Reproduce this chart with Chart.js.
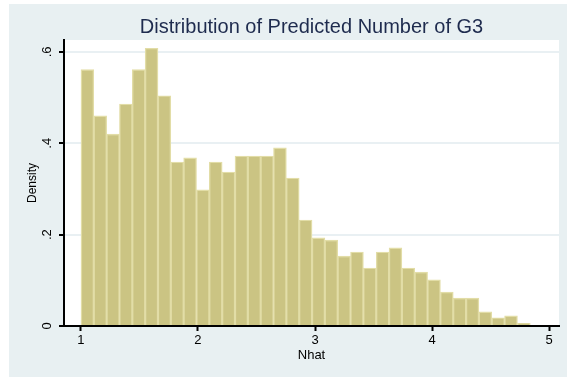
<!DOCTYPE html>
<html>
<head>
<meta charset="utf-8">
<script src="https://cdn.jsdelivr.net/npm/chart.js@4.4.1/dist/chart.umd.min.js"></script>
<style>
  html, body { margin: 0; padding: 0; background: #ffffff; }
  #wrap { position: absolute; left: 9px; top: 4px; width: 558px; height: 373px; background: #e8f0f2; }
</style>
</head>
<body>
<div id="wrap"><canvas id="histChart"></canvas></div>
<script>
// histogram of Nhat: 35 bins starting at 1
const binStart = 1.0;
const binWidth = 0.1097;
const density = [
  0.561, 0.460, 0.420, 0.486, 0.561, 0.608, 0.504, 0.359, 0.368, 0.298,
  0.359, 0.337, 0.372, 0.372, 0.372, 0.390, 0.324, 0.232, 0.193, 0.188,
  0.153, 0.162, 0.127, 0.162, 0.171, 0.127, 0.118, 0.101, 0.074, 0.061,
  0.061, 0.031, 0.018, 0.022, 0.006
];
const xTicks = [1, 2, 3, 4, 5];
const yTicks = [0, 0.2, 0.4, 0.6];
const yTickLabels = ['0', '.2', '.4', '.6'];

const points = density.map((d, i) => ({ x: binStart + (i + 0.5) * binWidth, y: d }));

// white plot region behind the bars
const plotBg = {
    id: 'plotBg',
    beforeDraw(chart) {
        const a = chart.chartArea;
        const ctx = chart.ctx;
        ctx.save();
        ctx.fillStyle = '#ffffff';
        ctx.fillRect(a.left, a.top, a.right - a.left, a.bottom - a.top);
        ctx.restore();
    }
};

const ctx = document.getElementById('histChart').getContext('2d');
new Chart(ctx, {
    type: 'bar',
    data: {
        datasets: [{
            label: 'Density',
            data: points,
            backgroundColor: '#cbc483',
            borderColor: '#e2dda7',
            borderWidth: 1.4,
            barPercentage: 1,
            categoryPercentage: 1
        }]
    },
    options: {
        responsive: true,
        maintainAspectRatio: false,
        animation: false,
        layout: { padding: { left: 0, right: 8, top: 0, bottom: 0 } },
        plugins: {
            legend: { display: false },
            tooltip: { enabled: false },
            title: {
                display: true,
                fullSize: false,
                text: 'Distribution of Predicted Number of G3',
                color: '#1e2b4e',
                font: { family: 'Liberation Sans, Arial, sans-serif', size: 20, weight: 'normal' },
                padding: { top: 11, bottom: 1 }
            }
        },
        scales: {
            x: {
                type: 'linear',
                offset: false,
                min: 0.855,
                max: 5.085,
                afterBuildTicks: s => { s.ticks = xTicks.map(v => ({ value: v })); },
                afterFit: s => { s.height = 51; },
                border: { color: '#000000', width: 2 },
                grid: { offset: false, drawOnChartArea: false, tickLength: 5, tickColor: '#000000', tickWidth: 2 },
                ticks: {
                    color: '#000000',
                    padding: 2,
                    maxRotation: 0,
                    font: { family: 'Liberation Sans, Arial, sans-serif', size: 13 },
                    callback: v => String(v)
                },
                title: {
                    display: true,
                    text: 'Nhat',
                    color: '#000000',
                    font: { family: 'Liberation Sans, Arial, sans-serif', size: 13 },
                    padding: { top: 0, bottom: 14 }
                }
            },
            y: {
                min: 0,
                max: 0.626,
                afterBuildTicks: s => { s.ticks = yTicks.map(v => ({ value: v })); },
                afterFit: s => { s.width = 55; },
                border: { color: '#000000', width: 2 },
                grid: {
                    color: c => (c.tick && c.tick.value === 0 ? 'rgba(0,0,0,0)' : '#e9f0f3'),
                    lineWidth: 2,
                    tickLength: 5,
                    tickColor: '#000000',
                    tickWidth: 2
                },
                ticks: {
                    color: '#000000',
                    padding: 6,
                    minRotation: 90,
                    maxRotation: 90,
                    crossAlign: 'center',
                    font: { family: 'Liberation Sans, Arial, sans-serif', size: 13 },
                    callback: (v, i) => yTickLabels[i]
                },
                title: {
                    display: true,
                    text: 'Density',
                    color: '#000000',
                    font: { family: 'Liberation Sans, Arial, sans-serif', size: 12 },
                    padding: { top: 16, bottom: 0 }
                }
            }
        }
    },
    plugins: [plotBg]
});
</script>
</body>
</html>
